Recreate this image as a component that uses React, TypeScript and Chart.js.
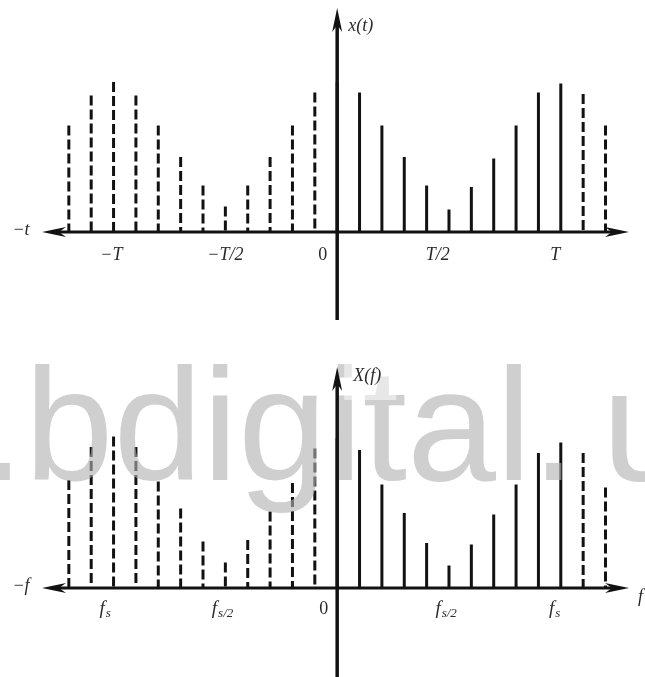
import { useEffect, useRef } from "react";
import { Chart, registerables } from "chart.js";

Chart.register(...registerables);

// Sample index n for both panels (one period plus a bit on each side)
const sampleIndex = [-12, -11, -10, -9, -8, -7, -6, -5, -4, -3, -2, -1, 0, 1, 2, 3, 4, 5, 6, 7, 8, 9, 10, 11, 12];

// Sampled time signal x(t), relative amplitude
const timeAmplitude = [0.71, 0.91, 1.0, 0.91, 0.71, 0.5, 0.31, 0.17, 0.31, 0.5, 0.71, 0.93, 1.0, 0.93, 0.71, 0.5, 0.31, 0.15, 0.3, 0.49, 0.71, 0.93, 0.99, 0.92, 0.71];

// Spectrum X(f), relative magnitude
const freqAmplitude = [0.72, 0.94, 1.01, 0.94, 0.71, 0.53, 0.31, 0.17, 0.32, 0.51, 0.7, 0.93, 1.0, 0.92, 0.69, 0.5, 0.3, 0.15, 0.29, 0.49, 0.69, 0.9, 0.97, 0.9, 0.67];

// Samples inside this index range are drawn solid, the rest dashed (periodic copies)
const solidFrom = 0;
const solidTo = 10;

// Tick marks on the time axis
const timeTickValues = [-10.1, -5, -0.65, 4.5, 9.75];
const timeTickLabels = ["−T", "−T/2", "0", "T/2", "T"];

// Tick marks on the frequency axis (base symbol + subscript)
const freqTickValues = [-10.4, -5.15, -0.6, 4.85, 9.7];
const freqTickBase = ["f", "f", "0", "f", "f"];
const freqTickSub = ["s", "s/2", "", "s/2", "s"];

const INK = "#121212";
const SERIF_ITALIC = "italic 18px 'Liberation Serif', 'DejaVu Serif', serif";
const SERIF = "18px 'Liberation Serif', 'DejaVu Serif', serif";

type Panel = {
  values: number[];
  height: number;
  yMin: number;
  yMax: number;
  tickValues: number[];
  tickBase: string[];
  tickSub: string[];
  tickDy: number;
  axisName: string;
  axisNameDx: number;
  axisNameY: number;
  negName: string;
  posName: string;
  vTipY: number;
  vBottomY: number;
  watermark: boolean;
};

function buildStems(values: number[], solid: boolean) {
  const pts: { x: number; y: number | null }[] = [];
  sampleIndex.forEach((n, i) => {
    const isSolid = n >= solidFrom && n <= solidTo;
    if (isSolid !== solid) return;
    // top first so a dash starts at the tip of each stem
    pts.push({ x: n, y: values[i] }, { x: n, y: 0 }, { x: n, y: null });
  });
  return pts;
}

function arrowHead(ctx: CanvasRenderingContext2D, tx: number, ty: number, dx: number, dy: number) {
  const len = 24;
  const half = 5;
  const notch = 7;
  const bx = tx - dx * len;
  const by = ty - dy * len;
  const px = -dy;
  const py = dx;
  ctx.beginPath();
  ctx.moveTo(tx, ty);
  ctx.lineTo(bx + px * half, by + py * half);
  ctx.lineTo(tx - dx * (len - notch), ty - dy * (len - notch));
  ctx.lineTo(bx - px * half, by - py * half);
  ctx.closePath();
  ctx.fill();
}

function decorPlugin(p: Panel) {
  return {
    id: "signalAxes",
    afterDatasetsDraw(chart: any) {
      const ctx: CanvasRenderingContext2D = chart.ctx;
      const xs = chart.scales.x;
      const ys = chart.scales.y;
      const { left, right } = chart.chartArea;
      const x0 = xs.getPixelForValue(0);
      const y0 = ys.getPixelForValue(0);
      ctx.save();

      if (p.watermark) {
        ctx.fillStyle = "rgba(178,178,178,0.62)";
        ctx.font = "160px 'Liberation Sans', Arial, sans-serif";
        ctx.textBaseline = "alphabetic";
        ctx.textAlign = "left";
        ctx.fillText(".bdigital.", -20, 150);
        ctx.fillText("u", 602, 150);
        // light patch behind the axis name
        ctx.fillStyle = "rgba(255,255,255,0.5)";
        ctx.fillRect(x0 + 7, 28, 52, 42);
      }

      ctx.fillStyle = INK;
      ctx.strokeStyle = INK;

      // horizontal axis with arrows at both ends
      ctx.lineWidth = 3;
      ctx.beginPath();
      ctx.moveTo(left + 10, y0);
      ctx.lineTo(right - 10, y0);
      ctx.stroke();
      arrowHead(ctx, left, y0, -1, 0);
      arrowHead(ctx, right, y0, 1, 0);

      // vertical axis
      ctx.lineWidth = 3.5;
      ctx.beginPath();
      ctx.moveTo(x0, p.vTipY + 10);
      ctx.lineTo(x0, p.vBottomY);
      ctx.stroke();
      arrowHead(ctx, x0, p.vTipY, 0, -1);

      // axis names
      ctx.fillStyle = "#2a2a2a";
      ctx.font = SERIF_ITALIC;
      ctx.textBaseline = "middle";
      ctx.textAlign = "left";
      ctx.fillText(p.axisName, x0 + p.axisNameDx, p.axisNameY);
      ctx.textAlign = "center";
      ctx.fillText(p.negName, 21, y0 - 2);
      if (p.posName) {
        ctx.textAlign = "left";
        ctx.fillText(p.posName, 638, y0 + 9);
      }

      // tick labels
      p.tickValues.forEach((v, i) => {
        const cx = xs.getPixelForValue(v);
        const base = p.tickBase[i];
        const sub = p.tickSub[i];
        const cy = y0 + p.tickDy;
        if (base === "0") {
          ctx.font = SERIF;
          ctx.textAlign = "center";
          ctx.fillText(base, cx, cy - (sub === "" && p.tickSub.some((s) => s) ? 2 : 0));
          return;
        }
        if (!sub) {
          ctx.font = SERIF_ITALIC;
          ctx.textAlign = "center";
          ctx.fillText(base, cx, cy);
          return;
        }
        ctx.font = "italic 19px 'Liberation Serif', 'DejaVu Serif', serif";
        const bw = ctx.measureText(base).width;
        ctx.font = "italic 13px 'Liberation Serif', 'DejaVu Serif', serif";
        const sw = ctx.measureText(sub).width;
        const start = cx - (bw + sw) / 2;
        ctx.textAlign = "left";
        ctx.font = "italic 19px 'Liberation Serif', 'DejaVu Serif', serif";
        ctx.fillText(base, start, cy - 2);
        ctx.font = "italic 13px 'Liberation Serif', 'DejaVu Serif', serif";
        ctx.fillText(sub, start + bw + 1, cy + 3);
      });

      ctx.restore();
    },
  };
}

function StemPanel({ p }: { p: Panel }) {
  const ref = useRef<HTMLCanvasElement | null>(null);
  useEffect(() => {
    if (!ref.current) return;
    const chart = new Chart(ref.current, {
      type: "scatter",
      data: {
        datasets: [
          {
            data: buildStems(p.values, false),
            showLine: true,
            borderColor: INK,
            borderWidth: 3,
            borderDash: [10, 4],
            borderCapStyle: "butt",
            pointRadius: 0,
            spanGaps: false,
          },
          {
            data: buildStems(p.values, true),
            showLine: true,
            borderColor: INK,
            borderWidth: 3,
            borderCapStyle: "butt",
            pointRadius: 0,
            spanGaps: false,
          },
        ],
      } as any,
      options: {
        animation: false,
        responsive: false,
        layout: { padding: { left: 42, right: 16, top: 0, bottom: 0 } },
        scales: {
          x: { type: "linear", min: -13.2, max: 13.05, display: false },
          y: { type: "linear", min: p.yMin, max: p.yMax, display: false },
        },
        plugins: { legend: { display: false }, tooltip: { enabled: false } },
        events: [],
      },
      plugins: [decorPlugin(p)],
    });
    return () => chart.destroy();
  }, [p]);
  return <canvas ref={ref} width={645} height={p.height} style={{ display: "block", width: 645, height: p.height }} />;
}

const timePanel: Panel = {
  values: timeAmplitude,
  height: 330,
  yMin: -0.653,
  yMax: 1.547,
  tickValues: timeTickValues,
  tickBase: timeTickLabels,
  tickSub: timeTickLabels.map(() => ""),
  tickDy: 23,
  axisName: "x(t)",
  axisNameDx: 11,
  axisNameY: 26,
  negName: "−t",
  posName: "",
  vTipY: 8,
  vBottomY: 320,
  watermark: false,
};

const freqPanel: Panel = {
  values: freqAmplitude,
  height: 347,
  yMin: -0.5933,
  yMax: 1.72,
  tickValues: freqTickValues,
  tickBase: freqTickBase,
  tickSub: freqTickSub,
  tickDy: 23,
  axisName: "X(f)",
  axisNameDx: 16,
  axisNameY: 46,
  negName: "−f",
  posName: "f",
  vTipY: 37,
  vBottomY: 347,
  watermark: true,
};

export default function App() {
  return (
    <div style={{ position: "absolute", left: 0, top: 0, width: 645, height: 677, background: "#fff", overflow: "hidden" }}>
      <StemPanel p={timePanel} />
      <StemPanel p={freqPanel} />
    </div>
  );
}
